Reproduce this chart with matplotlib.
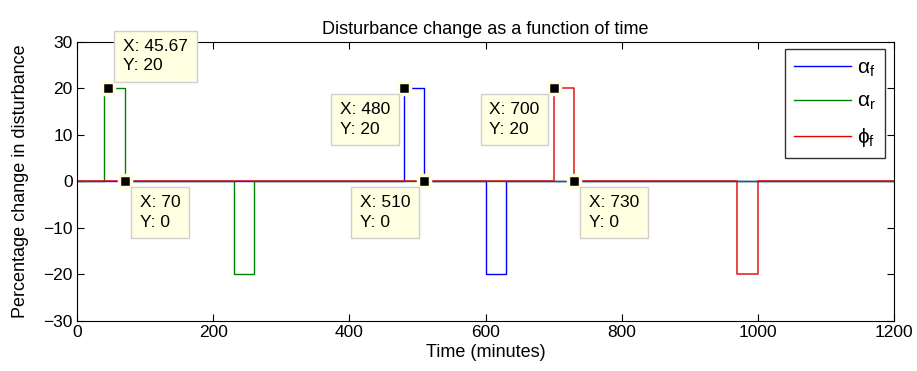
import matplotlib
matplotlib.use("Agg")
import matplotlib.pyplot as plt

plt.rcParams['font.family'] = ['Liberation Sans', 'DejaVu Sans']
plt.rcParams['mathtext.fontset'] = 'custom'
plt.rcParams['mathtext.rm'] = 'Liberation Sans'
plt.rcParams['mathtext.it'] = 'Liberation Sans'

# step signals: time points and percentage values
t_af = [0, 480, 480, 510, 510, 600, 600, 630, 630, 1200]
y_af = [0, 0, 20, 20, 0, 0, -20, -20, 0, 0]
t_ar = [0, 40, 40, 70, 70, 230, 230, 260, 260, 1200]
y_ar = [0, 0, 20, 20, 0, 0, -20, -20, 0, 0]
t_pf = [0, 700, 700, 730, 730, 970, 970, 1000, 1000, 1200]
y_pf = [0, 0, 20, 20, 0, 0, -20, -20, 0, 0]

# data tips: x, y, box side (right/left, above/below)
tip_x = [45.67, 70, 480, 510, 700, 730]
tip_y = [20, 0, 20, 0, 20, 0]
tip_side = [('r', 'up'), ('r', 'down'), ('l', 'down'), ('l', 'down'), ('l', 'down'), ('r', 'down')]

fig, ax = plt.subplots(figsize=(9.17, 3.71), dpi=100)
fig.subplots_adjust(left=0.084, right=0.975, top=0.887, bottom=0.135)

ax.plot(t_af, y_af, color='#0000ff', lw=1.0, label=r'$\alpha_\mathrm{f}$')
ax.plot(t_ar, y_ar, color='#008000', lw=1.0, label=r'$\alpha_\mathrm{r}$')
ax.plot(t_pf, y_pf, color='#e00000', lw=1.2, alpha=0.85, label=r'$\phi_\mathrm{f}$')

for x, y, (hs, vs) in zip(tip_x, tip_y, tip_side):
    ax.plot(x, y, 's', color='black', ms=9, mec='#ffffe0', mew=2.5, zorder=5)
    ox = 15 if hs == 'r' else -14
    oy = 15 if vs == 'up' else -14
    ax.annotate(f"X: {x:g}\nY: {y:g}", (x, y), xytext=(ox, oy),
                textcoords='offset pixels',
                ha='left' if hs == 'r' else 'right',
                va='bottom' if vs == 'up' else 'top',
                multialignment='left', fontsize=12.5, linespacing=1.35,
                bbox=dict(boxstyle='square,pad=0.5', fc='#ffffe1', ec='#cfcfcf', lw=1),
                zorder=6)

ax.set_xlim(0, 1200)
ax.set_ylim(-30, 30)
ax.set_xticks(range(0, 1201, 200))
ax.set_yticks(range(-30, 31, 10))
ax.tick_params(direction='in', top=True, right=True, labelsize=12.5, length=5, pad=3)
ax.set_xlabel("Time (minutes)", fontsize=13, labelpad=3)
ax.set_ylabel("Percentage change in disturbance", fontsize=13, labelpad=10)
ax.set_title("Disturbance change as a function of time", fontsize=13, pad=6)

leg = ax.legend(loc='upper right', fontsize=15, fancybox=False, edgecolor='black',
                handlelength=2.7, handletextpad=0.3, labelspacing=0.65,
                borderpad=0.45, borderaxespad=0, bbox_to_anchor=(0.989, 0.975))
leg.get_frame().set_linewidth(1)
for h in leg.get_lines():
    h.set_alpha(1)
    h.set_linewidth(1.0)

plt.savefig("out.png", dpi=100)
